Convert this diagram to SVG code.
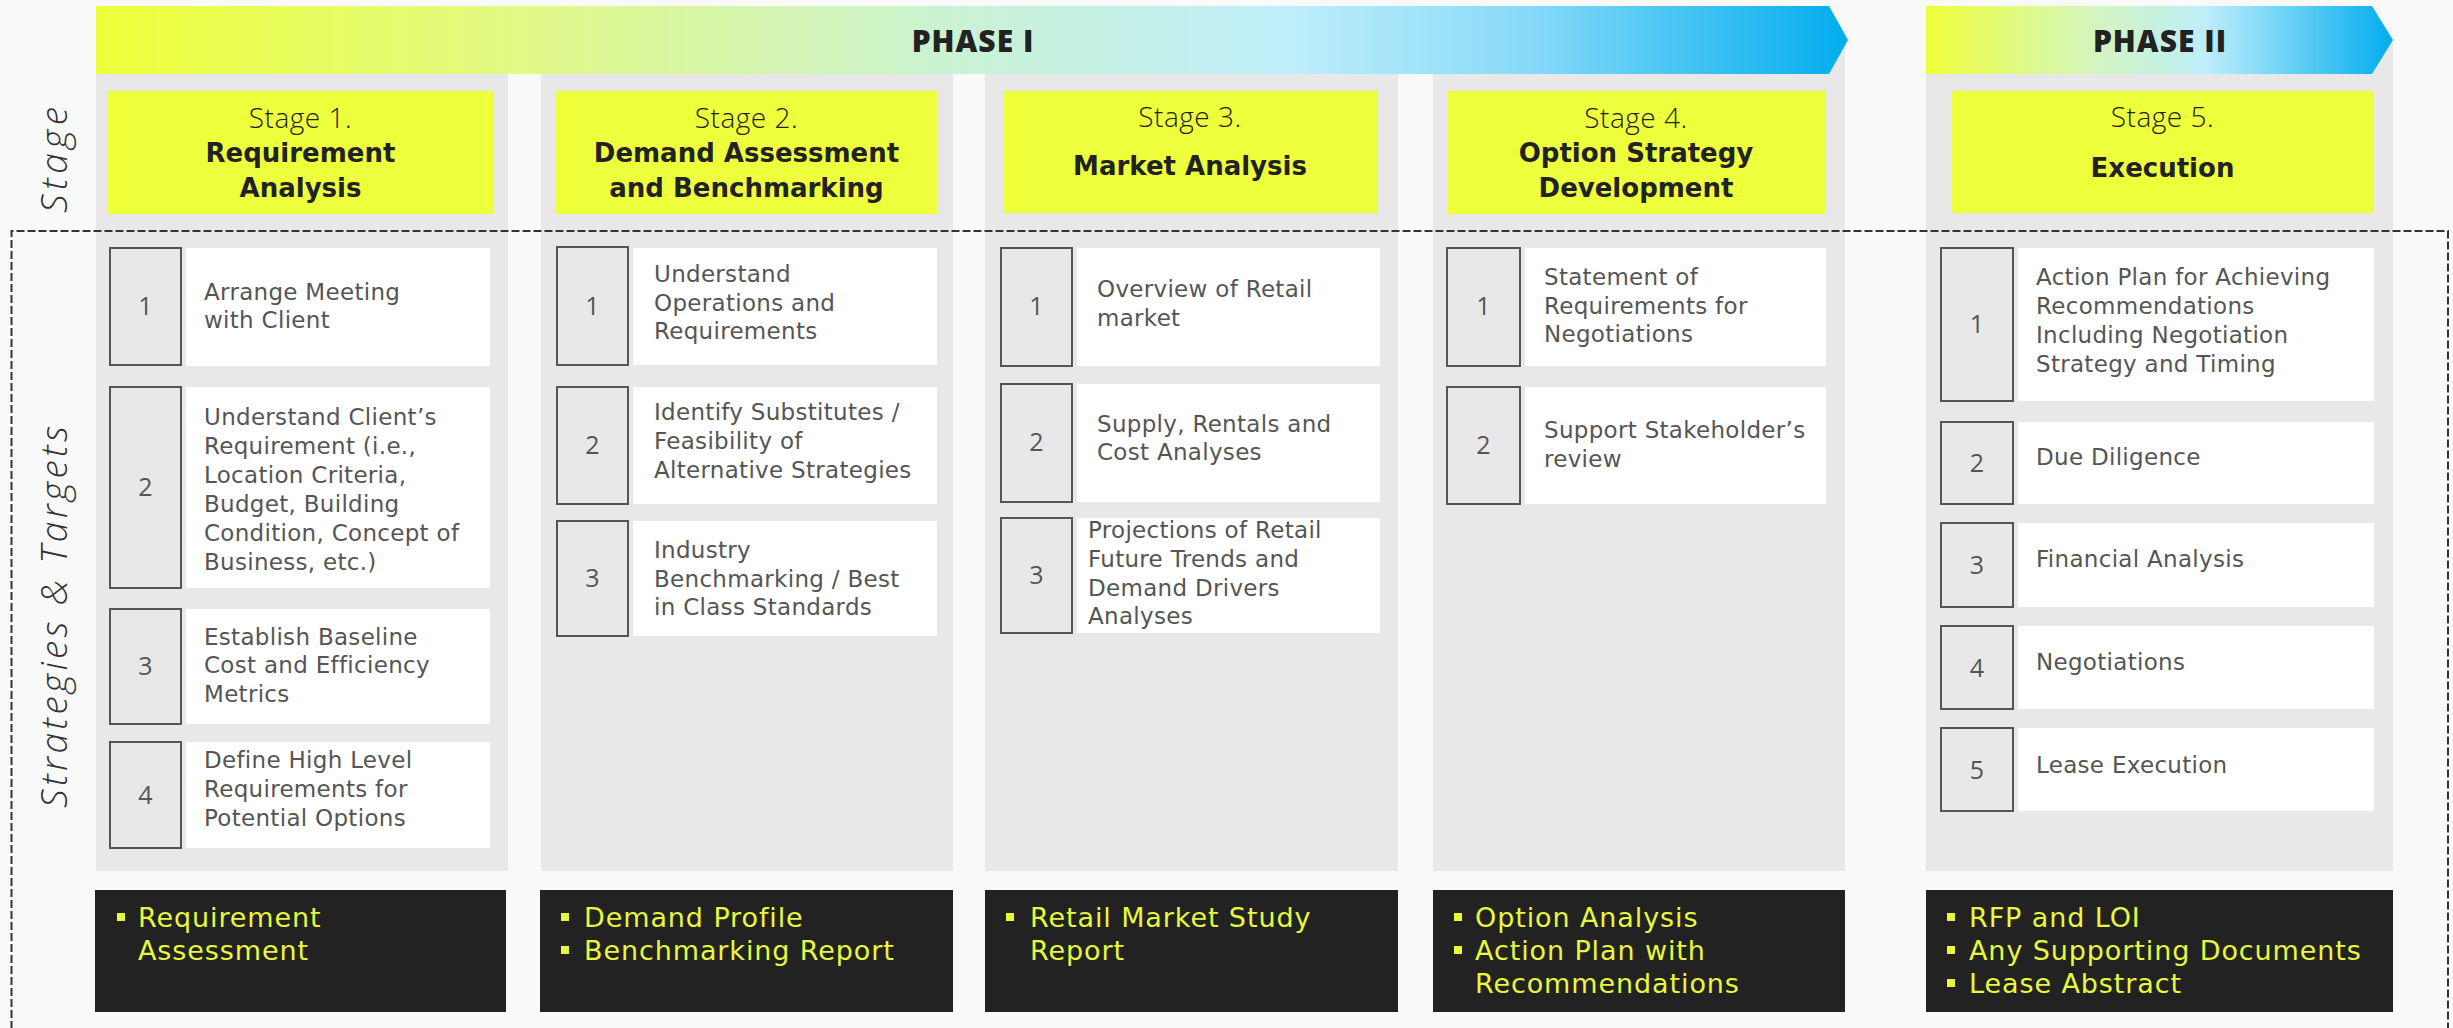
<svg xmlns="http://www.w3.org/2000/svg" width="2453" height="1028" viewBox="0 0 2453 1028">
<defs>
<linearGradient id="g1" x1="96" y1="0" x2="1848" y2="0" gradientUnits="userSpaceOnUse">
<stop offset="0" stop-color="#eeff3a"/>
<stop offset="0.25" stop-color="#e0f888"/>
<stop offset="0.5" stop-color="#c9f2d6"/>
<stop offset="0.68" stop-color="#bfeefa"/>
<stop offset="0.82" stop-color="#86d9f8"/>
<stop offset="1" stop-color="#02adee"/>
</linearGradient>
<linearGradient id="g2" x1="1926" y1="0" x2="2393" y2="0" gradientUnits="userSpaceOnUse">
<stop offset="0" stop-color="#eeff3a"/>
<stop offset="0.35" stop-color="#d4f5ba"/>
<stop offset="0.6" stop-color="#bdeefb"/>
<stop offset="1" stop-color="#02adee"/>
</linearGradient>
<style>
.col{fill:#e8e8e8}
.stg{fill:#eeff3c}
.nb{fill:#e8e8e8;stroke:#555;stroke-width:2}
.wb{fill:#ffffff}
.blk{fill:#222222}
.bul{fill:#e8f83a}
.ph{font-family:"Open Sans","Liberation Sans",sans-serif;font-weight:800;font-size:30px;fill:#222;text-anchor:middle;letter-spacing:1px}
.sl{font-family:"Open Sans","Liberation Sans",sans-serif;font-weight:300;font-size:28px;fill:#222;text-anchor:middle;letter-spacing:0.5px}
.sb{font-family:"DejaVu Sans","Liberation Sans",sans-serif;font-weight:700;font-size:26px;fill:#222;text-anchor:middle}
.it{font-family:"DejaVu Sans","Liberation Sans",sans-serif;font-size:23px;fill:#555;letter-spacing:0.3px}
.num{font-family:"Open Sans","Liberation Sans",sans-serif;font-size:25px;fill:#555;text-anchor:middle}
.bt{font-family:"DejaVu Sans","Liberation Sans",sans-serif;font-size:27px;fill:#e8f83a;letter-spacing:0.9px}
.vt{font-family:"Open Sans","Liberation Sans",sans-serif;font-weight:300;font-style:italic;font-size:37px;fill:#333;text-anchor:middle}
</style>
</defs>
<rect x="0" y="0" width="2453" height="1028" fill="#f9f9f9"/>

<g id="columns">
<rect class="col" x="96" y="44" width="412" height="827"/>
<rect class="col" x="541" y="44" width="412" height="827"/>
<rect class="col" x="985" y="44" width="413" height="827"/>
<rect class="col" x="1433" y="44" width="412" height="827"/>
<rect class="col" x="1926" y="44" width="467" height="827"/>
</g>

<g id="phase1">
<path d="M96,6 H1829 L1848,40 L1829,74 H96 Z" fill="url(#g1)"/>
<text class="ph" x="973" y="52">PHASE I</text>
</g>
<g id="phase2">
<path d="M1926,6 H2372 L2393,40 L2372,74 H1926 Z" fill="url(#g2)"/>
<text class="ph" x="2160" y="52">PHASE II</text>
</g>

<g id="label-stage">
<text class="vt" transform="translate(67,160) rotate(-90)" textLength="106" lengthAdjust="spacing">Stage</text>
</g>
<g id="label-strategies">
<text class="vt" transform="translate(67,617) rotate(-90)" textLength="382" lengthAdjust="spacing">Strategies &amp; Targets</text>
</g>

<g id="stage1">
<rect class="stg" x="107" y="91" width="387" height="123"/>
<text class="sl" x="300.5" y="128">Stage 1.</text>
<text class="sb" x="300.5" y="162">Requirement</text>
<text class="sb" x="300.5" y="197">Analysis</text>
</g>
<g id="stage2">
<rect class="stg" x="556" y="91" width="381" height="123"/>
<text class="sl" x="746.5" y="128">Stage 2.</text>
<text class="sb" x="746.5" y="162">Demand Assessment</text>
<text class="sb" x="746.5" y="197">and Benchmarking</text>
</g>
<g id="stage3">
<rect class="stg" x="1003" y="91" width="374" height="122"/>
<text class="sl" x="1190" y="127">Stage 3.</text>
<text class="sb" x="1190" y="175">Market Analysis</text>
</g>
<g id="stage4">
<rect class="stg" x="1447" y="91" width="378" height="123"/>
<text class="sl" x="1636" y="128">Stage 4.</text>
<text class="sb" x="1636" y="162">Option Strategy</text>
<text class="sb" x="1636" y="197">Development</text>
</g>
<g id="stage5">
<rect class="stg" x="1951" y="91" width="423" height="122"/>
<text class="sl" x="2162.5" y="127">Stage 5.</text>
<text class="sb" x="2162.5" y="177">Execution</text>
</g>

<!-- Column 1 items -->
<g id="s1-item1">
<rect class="nb" x="110" y="248" width="71" height="117"/>
<rect class="wb" x="186" y="248" width="304" height="118"/>
<text class="num" x="145.5" y="315">1</text>
<text class="it" x="204" y="300">Arrange Meeting<tspan x="204" y="328">with Client</tspan></text>
</g>
<g id="s1-item2">
<rect class="nb" x="110" y="387" width="71" height="201"/>
<rect class="wb" x="186" y="387" width="304" height="201"/>
<text class="num" x="145.5" y="496">2</text>
<text class="it" x="204" y="425">Understand Client’s<tspan x="204" y="454">Requirement (i.e.,</tspan><tspan x="204" y="483">Location Criteria,</tspan><tspan x="204" y="512">Budget, Building</tspan><tspan x="204" y="541">Condition, Concept of</tspan><tspan x="204" y="570">Business, etc.)</tspan></text>
</g>
<g id="s1-item3">
<rect class="nb" x="110" y="609" width="71" height="115"/>
<rect class="wb" x="186" y="609" width="304" height="115"/>
<text class="num" x="145.5" y="675">3</text>
<text class="it" x="204" y="645">Establish Baseline<tspan x="204" y="673">Cost and Efficiency</tspan><tspan x="204" y="702">Metrics</tspan></text>
</g>
<g id="s1-item4">
<rect class="nb" x="110" y="742" width="71" height="106"/>
<rect class="wb" x="186" y="742" width="304" height="106"/>
<text class="num" x="145.5" y="804">4</text>
<text class="it" x="204" y="768">Define High Level<tspan x="204" y="797">Requirements for</tspan><tspan x="204" y="826">Potential Options</tspan></text>
</g>

<!-- Column 2 items -->
<g id="s2-item1">
<rect class="nb" x="557" y="247" width="71" height="118"/>
<rect class="wb" x="633" y="248" width="304" height="117"/>
<text class="num" x="592.5" y="315">1</text>
<text class="it" x="654" y="282">Understand<tspan x="654" y="311">Operations and</tspan><tspan x="654" y="339">Requirements</tspan></text>
</g>
<g id="s2-item2">
<rect class="nb" x="557" y="387" width="71" height="117"/>
<rect class="wb" x="633" y="387" width="304" height="117"/>
<text class="num" x="592.5" y="454">2</text>
<text class="it" x="654" y="420">Identify Substitutes /<tspan x="654" y="449">Feasibility of</tspan><tspan x="654" y="478">Alternative Strategies</tspan></text>
</g>
<g id="s2-item3">
<rect class="nb" x="557" y="521" width="71" height="115"/>
<rect class="wb" x="633" y="521" width="304" height="115"/>
<text class="num" x="592.5" y="587">3</text>
<text class="it" x="654" y="558">Industry<tspan x="654" y="587">Benchmarking / Best</tspan><tspan x="654" y="615">in Class Standards</tspan></text>
</g>

<!-- Column 3 items -->
<g id="s3-item1">
<rect class="nb" x="1001" y="248" width="71" height="118"/>
<rect class="wb" x="1077" y="248" width="303" height="118"/>
<text class="num" x="1036.5" y="315">1</text>
<text class="it" x="1097" y="297">Overview of Retail<tspan x="1097" y="326">market</tspan></text>
</g>
<g id="s3-item2">
<rect class="nb" x="1001" y="384" width="71" height="118"/>
<rect class="wb" x="1077" y="384" width="303" height="118"/>
<text class="num" x="1036.5" y="451">2</text>
<text class="it" x="1097" y="432">Supply, Rentals and<tspan x="1097" y="460">Cost Analyses</tspan></text>
</g>
<g id="s3-item3">
<rect class="nb" x="1001" y="518" width="71" height="115"/>
<rect class="wb" x="1077" y="518" width="303" height="115"/>
<text class="num" x="1036.5" y="584">3</text>
<text class="it" x="1088" y="538">Projections of Retail<tspan x="1088" y="567">Future Trends and</tspan><tspan x="1088" y="596">Demand Drivers</tspan><tspan x="1088" y="624">Analyses</tspan></text>
</g>

<!-- Column 4 items -->
<g id="s4-item1">
<rect class="nb" x="1447" y="248" width="73" height="118"/>
<rect class="wb" x="1525" y="248" width="301" height="118"/>
<text class="num" x="1483.5" y="315">1</text>
<text class="it" x="1544" y="285">Statement of<tspan x="1544" y="314">Requirements for</tspan><tspan x="1544" y="342">Negotiations</tspan></text>
</g>
<g id="s4-item2">
<rect class="nb" x="1447" y="387" width="73" height="117"/>
<rect class="wb" x="1525" y="387" width="301" height="117"/>
<text class="num" x="1483.5" y="454">2</text>
<text class="it" x="1544" y="438">Support Stakeholder’s<tspan x="1544" y="467">review</tspan></text>
</g>

<!-- Column 5 items -->
<g id="s5-item1">
<rect class="nb" x="1941" y="248" width="72" height="153"/>
<rect class="wb" x="2018" y="248" width="356" height="153"/>
<text class="num" x="1977" y="333">1</text>
<text class="it" x="2036" y="285">Action Plan for Achieving<tspan x="2036" y="314">Recommendations</tspan><tspan x="2036" y="343">Including Negotiation</tspan><tspan x="2036" y="372">Strategy and Timing</tspan></text>
</g>
<g id="s5-item2">
<rect class="nb" x="1941" y="422" width="72" height="82"/>
<rect class="wb" x="2018" y="422" width="356" height="82"/>
<text class="num" x="1977" y="472">2</text>
<text class="it" x="2036" y="465">Due Diligence</text>
</g>
<g id="s5-item3">
<rect class="nb" x="1941" y="523" width="72" height="84"/>
<rect class="wb" x="2018" y="523" width="356" height="84"/>
<text class="num" x="1977" y="574">3</text>
<text class="it" x="2036" y="567">Financial Analysis</text>
</g>
<g id="s5-item4">
<rect class="nb" x="1941" y="626" width="72" height="83"/>
<rect class="wb" x="2018" y="626" width="356" height="83"/>
<text class="num" x="1977" y="677">4</text>
<text class="it" x="2036" y="670">Negotiations</text>
</g>
<g id="s5-item5">
<rect class="nb" x="1941" y="728" width="72" height="83"/>
<rect class="wb" x="2018" y="728" width="356" height="83"/>
<text class="num" x="1977" y="779">5</text>
<text class="it" x="2036" y="773">Lease Execution</text>
</g>

<!-- Deliverables -->
<g id="out1">
<rect class="blk" x="95" y="890" width="411" height="122"/>
<rect class="bul" x="117" y="913" width="8" height="8"/>
<text class="bt" x="138" y="927">Requirement<tspan x="138" y="960">Assessment</tspan></text>
</g>
<g id="out2">
<rect class="blk" x="540" y="890" width="413" height="122"/>
<rect class="bul" x="561" y="913" width="8" height="8"/>
<rect class="bul" x="561" y="946" width="8" height="8"/>
<text class="bt" x="584" y="927">Demand Profile<tspan x="584" y="960">Benchmarking Report</tspan></text>
</g>
<g id="out3">
<rect class="blk" x="985" y="890" width="413" height="122"/>
<rect class="bul" x="1006" y="913" width="8" height="8"/>
<text class="bt" x="1030" y="927">Retail Market Study<tspan x="1030" y="960">Report</tspan></text>
</g>
<g id="out4">
<rect class="blk" x="1433" y="890" width="412" height="122"/>
<rect class="bul" x="1454" y="913" width="8" height="8"/>
<rect class="bul" x="1454" y="946" width="8" height="8"/>
<text class="bt" x="1475" y="927">Option Analysis<tspan x="1475" y="960">Action Plan with</tspan><tspan x="1475" y="993">Recommendations</tspan></text>
</g>
<g id="out5">
<rect class="blk" x="1926" y="890" width="467" height="122"/>
<rect class="bul" x="1947" y="913" width="8" height="8"/>
<rect class="bul" x="1947" y="946" width="8" height="8"/>
<rect class="bul" x="1947" y="979" width="8" height="8"/>
<text class="bt" x="1969" y="927">RFP and LOI<tspan x="1969" y="960">Any Supporting Documents</tspan><tspan x="1969" y="993">Lease Abstract</tspan></text>
</g>

<g id="connectors">
<path d="M11.5,1040 V231 H2448 V1040" fill="none" stroke="#333" stroke-width="2" stroke-dasharray="8 3"/>
</g>
</svg>
